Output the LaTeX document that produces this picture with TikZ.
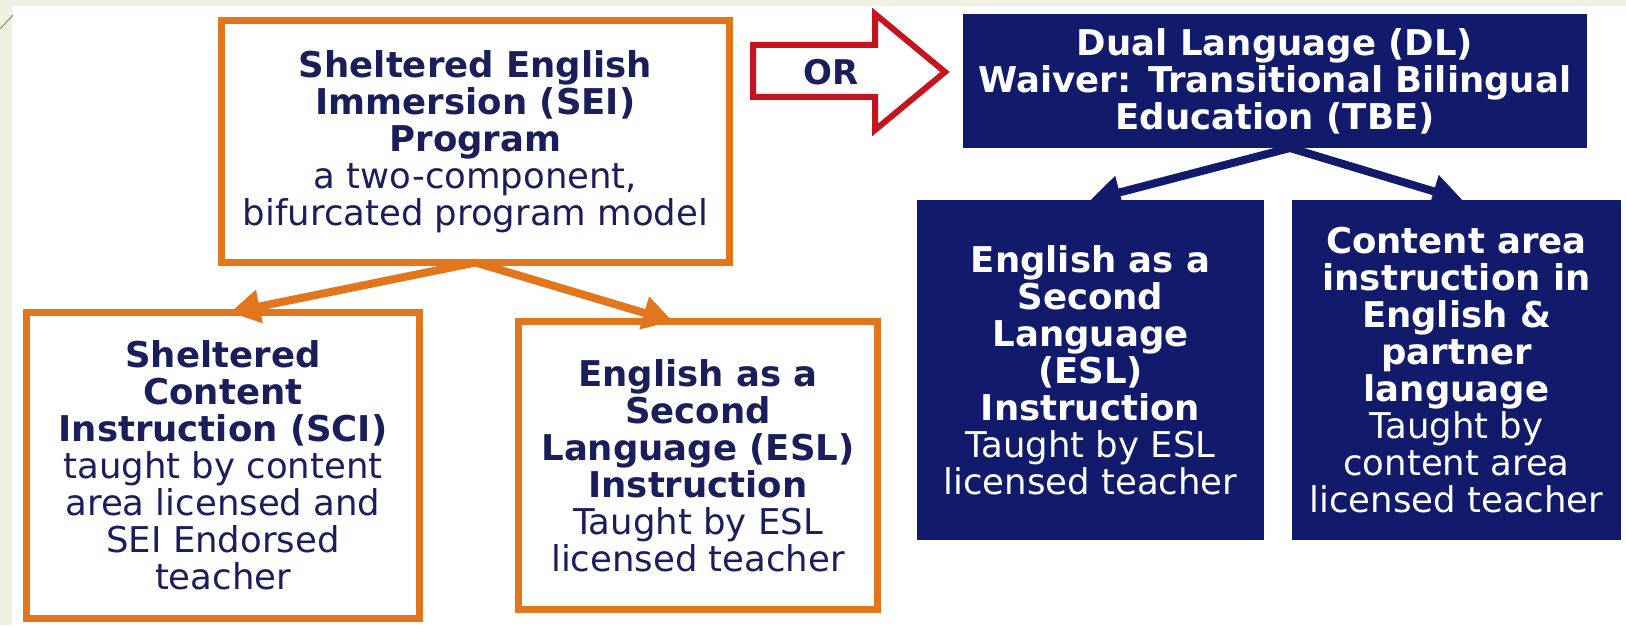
\documentclass[tikz,border=0pt]{standalone}
\usepackage{fontspec}
\setmainfont{DejaVu Sans}
\usetikzlibrary{arrows.meta}

\definecolor{pagegreen}{RGB}{238,242,224}
\definecolor{seiorange}{RGB}{226,118,28}
\definecolor{dlnavy}{RGB}{18,26,108}
\definecolor{textnavy}{RGB}{26,30,90}
\definecolor{orred}{RGB}{198,20,30}
\definecolor{cornerline}{RGB}{138,143,112}

\begin{document}
\begin{tikzpicture}[x=1pt,y=1pt,font=\fontsize{35.5}{37}\selectfont]
  \path[use as bounding box] (0,0) rectangle (1626,625);
  \fill[pagegreen] (0,0) rectangle (1626,625);
  \fill[white] (12,0) rectangle (1626,619);
  \draw[cornerline,line width=1pt] (0,596) -- (13,610);

  \tikzset{orangebox/.style 2 args={draw=seiorange,line width=7pt,fill=white,
    minimum width=#1,minimum height=#2,align=center,text=textnavy,
    inner sep=0pt,outer sep=0pt},
    navybox/.style 2 args={fill=dlnavy,minimum width=#1,minimum height=#2,
    align=center,text=white,inner sep=0pt,outer sep=0pt},
    orangearrow/.style={-{Triangle[length=30pt,width=32pt]},line width=8pt,draw=seiorange},
    navyarrow/.style={-{Triangle[length=30pt,width=32pt]},line width=8pt,draw=dlnavy}}

  % left side: SEI program and its two components
  \node[orangebox={508pt}{242pt}] (sei) at (475.5,483.5)
    {\textbf{Sheltered English}\\
     \textbf{Immersion (SEI)}\\
     \textbf{Program}\\
     a two-component,\\
     bifurcated program model};
  \node[orangebox={393pt}{306pt}] (sci) at (223,159.5)
    {\textbf{Sheltered}\\
     \textbf{Content}\\
     \textbf{Instruction (SCI)}\\
     taught by content\\
     area licensed and\\
     SEI Endorsed\\
     teacher};
  \node[orangebox={359pt}{288pt}] (eslo) at (698,159.5)
    {\textbf{English as a}\\
     \textbf{Second}\\
     \textbf{Language (ESL)}\\
     \textbf{Instruction}\\
     Taught by ESL\\
     licensed teacher};

  \draw[orangearrow] (sei.south) -- ([xshift=7pt]sci.north);
  \draw[orangearrow] (sei.south) -- ([xshift=-25pt]eslo.north);

  % the OR block arrow
  \draw[orred,line width=6pt,line join=miter,fill=white]
    (753,580) -- (875,580) -- (875,611) -- (945,553)
    -- (875,495) -- (875,528) -- (753,528) -- cycle;
  \node[font=\fontsize{34}{36}\selectfont\bfseries,text=textnavy] (ortext) at (831,553) {OR};

  % right side: DL / TBE and its two components
  \node[navybox={624pt}{134pt}] (dl) at (1275,544)
    {\textbf{Dual Language (DL)}\\
     \textbf{Waiver: Transitional Bilingual}\\
     \textbf{Education (TBE)}};
  \node[navybox={347pt}{340pt}] (esln) at (1090.5,255)
    {\textbf{English as a}\\
     \textbf{Second}\\
     \textbf{Language}\\
     \textbf{(ESL)}\\
     \textbf{Instruction}\\
     Taught by ESL\\
     licensed teacher};
  \node[navybox={329pt}{340pt}] (content) at (1456.5,255)
    {\textbf{Content area}\\
     \textbf{instruction in}\\
     \textbf{English \&}\\
     \textbf{partner}\\
     \textbf{language}\\
     Taught by\\
     content area\\
     licensed teacher};

  \draw[navyarrow] ([xshift=15pt]dl.south) -- (esln.north);
  \draw[navyarrow] ([xshift=15pt]dl.south) -- ([xshift=6pt]content.north);
\end{tikzpicture}
\end{document}
